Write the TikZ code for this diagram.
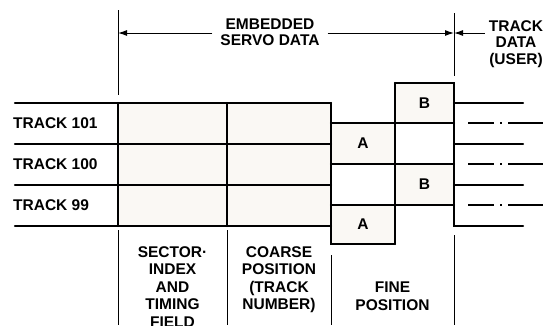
\documentclass[tikz,border=0pt]{standalone}
\usepackage{fontspec}
\setmainfont{Liberation Sans}
\usetikzlibrary{arrows.meta, calc, positioning}

\definecolor{cellfill}{RGB}{250,248,244}

\begin{document}
\begin{tikzpicture}[x=1pt, y=-1pt,
    lbl/.style={font=\fontsize{15.5}{17.5}\selectfont\bfseries, align=center, inner sep=0pt},
    grid/.style={line width=2.2pt, line cap=round},
    thin/.style={line width=1pt},
    dim/.style={line width=1pt, -{Latex[length=9pt, width=6pt]}}]
    \clip (0,0) rectangle (543,325);

    % shaded cells of the servo field
    \fill[cellfill] (118,103) rectangle (331,226);
    \fill[cellfill] (331,123) rectangle (395,164);
    \fill[cellfill] (331,205) rectangle (395,244);
    \fill[cellfill] (395,83) rectangle (454,123);
    \fill[cellfill] (395,164) rectangle (454,205);

    % track lines
    \foreach \y in {103,144,185,226}
        \draw[grid] (15,\y) -- (331,\y);
    \foreach \y in {103,144,185}
        \draw[grid] (454,\y) -- (523,\y);

    % dash-dot lines between the tracks (user data)
    \foreach \y in {123,164,205}
        \draw[grid, line cap=butt, dash pattern=on 26pt off 6pt on 2pt off 6pt on 80pt] (468,\y) -- (543,\y);

    % field boundaries
    \draw[grid] (118,103) -- (118,226);
    \draw[grid] (227,103) -- (227,226);
    \draw[grid] (331,103) -- (331,244) -- (395,244);
    \draw[grid] (395,83) -- (395,244);
    \draw[grid] (395,83) -- (454,83) -- (454,226) -- (523,226);
    \foreach \y in {123,164,205}
        \draw[grid] (331,\y) -- (454,\y);

    % burst labels
    \node[lbl] (a1) at (363,143.5) {A};
    \node[lbl] (a2) at (363,224.5) {A};
    \node[lbl] (b1) at (424.5,103) {B};
    \node[lbl] (b2) at (424.5,184.5) {B};

    % track names
    \node[lbl, anchor=west] (t101) at (13,123.5) {TRACK 101};
    \node[lbl, anchor=west] (t100) at (13,164.5) {TRACK 100};
    \node[lbl, anchor=west] (t99) at (13,205.5) {TRACK 99};

    % dimension lines on top
    \draw[thin] (118,10) -- (118,95);
    \draw[thin] (454,13) -- (454,76);
    \node[lbl, font=\fontsize{15.5}{16.5}\selectfont\bfseries, inner xsep=8pt] (servo) at (270,32) {EMBEDDED\\SERVO DATA};
    \node[lbl, font=\fontsize{15.5}{16.5}\selectfont\bfseries, inner xsep=4pt] (user) at (516,44) {TRACK\\DATA\\(USER)};
    \coordinate (tipL) at (118,33);
    \coordinate (tipR) at (454,33);
    \draw[dim] (servo.west |- tipL) -- (tipL);
    \draw[dim] (servo.east |- tipR) -- (tipR);
    \draw[dim] (user.west |- tipR) -- (tipR);

    % field separators and names below
    \draw[thin] (118,230) -- (118,325);
    \draw[thin] (227,230) -- (227,325);
    \draw[thin] (331,255) -- (331,325);
    \draw[thin] (454,235) -- (454,325);
    \node[lbl, anchor=north] (sector) at (172.5,246) {SECTOR·\\INDEX\\AND\\TIMING\\FIELD};
    \node[lbl, anchor=north] (coarse) at (279,246) {COARSE\\POSITION\\(TRACK\\NUMBER)};
    \node[lbl, anchor=north] (fine) at (392.5,282) {FINE\\POSITION};
\end{tikzpicture}
\end{document}
